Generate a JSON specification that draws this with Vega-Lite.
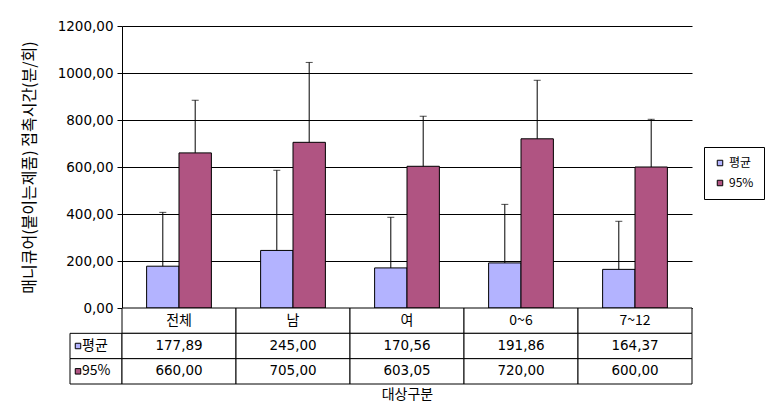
{
  "$schema": "https://vega.github.io/schema/vega-lite/v6.json",
  "background": "white",
  "padding": {"left": 21, "top": 19, "right": 5, "bottom": 5},
  "config": {
    "view": {"stroke": null},
    "font": "Noto Sans CJK KR",
    "axis": {"labelColor": "black", "titleColor": "black", "titleFontWeight": "normal"}
  },
  "datasets": {
    "bars": [
      {"cat": "전체", "series": "평균", "value": 177.89, "upper": 407},
      {"cat": "전체", "series": "95%", "value": 660.0, "upper": 884},
      {"cat": "남", "series": "평균", "value": 245.0, "upper": 586},
      {"cat": "남", "series": "95%", "value": 705.0, "upper": 1045},
      {"cat": "여", "series": "평균", "value": 170.56, "upper": 386},
      {"cat": "여", "series": "95%", "value": 603.05, "upper": 816},
      {"cat": "0~6", "series": "평균", "value": 191.86, "upper": 441},
      {"cat": "0~6", "series": "95%", "value": 720.0, "upper": 969},
      {"cat": "7~12", "series": "평균", "value": 164.37, "upper": 369},
      {"cat": "7~12", "series": "95%", "value": 600.0, "upper": 803}
    ],
    "cells": [
      {"cat": "전체", "row": "cat", "label": "전체"},
      {"cat": "남", "row": "cat", "label": "남"},
      {"cat": "여", "row": "cat", "label": "여"},
      {"cat": "0~6", "row": "cat", "label": "0~6"},
      {"cat": "7~12", "row": "cat", "label": "7~12"},
      {"cat": "전체", "row": "평균", "label": "177,89"},
      {"cat": "남", "row": "평균", "label": "245,00"},
      {"cat": "여", "row": "평균", "label": "170,56"},
      {"cat": "0~6", "row": "평균", "label": "191,86"},
      {"cat": "7~12", "row": "평균", "label": "164,37"},
      {"cat": "전체", "row": "95%", "label": "660,00"},
      {"cat": "남", "row": "95%", "label": "705,00"},
      {"cat": "여", "row": "95%", "label": "603,05"},
      {"cat": "0~6", "row": "95%", "label": "720,00"},
      {"cat": "7~12", "row": "95%", "label": "600,00"}
    ],
    "legrows": [
      {"row": "평균"},
      {"row": "95%"}
    ],
    "blank": [{"k": 1}]
  },
  "columns": 2,
  "bounds": "flush",
  "spacing": 0,
  "resolve": {
    "scale": {"x": "independent", "y": "independent", "color": "independent"},
    "legend": {"color": "independent"}
  },
  "concat": [
    {
      "width": 52,
      "height": 282,
      "data": {"name": "blank"},
      "mark": {"type": "text", "text": ""},
      "encoding": {}
    },
    {
      "width": 570,
      "height": 282,
      "data": {"name": "bars"},
      "encoding": {
        "x": {
          "field": "cat", "type": "nominal",
          "sort": ["전체", "남", "여", "0~6", "7~12"],
          "scale": {"paddingInner": 0, "paddingOuter": 0},
          "axis": {"labels": false, "ticks": false, "title": null, "domainColor": "black"}
        },
        "xOffset": {
          "field": "series", "type": "nominal",
          "sort": ["평균", "95%"],
          "scale": {"paddingInner": 0, "paddingOuter": 0.76}
        }
      },
      "layer": [
        {
          "mark": {"type": "bar", "stroke": "black", "strokeWidth": 1},
          "encoding": {
            "y": {
              "field": "value", "type": "quantitative",
              "scale": {"domain": [0, 1200], "nice": false},
              "axis": {
                "values": [0, 200, 400, 600, 800, 1000, 1200],
                "labelExpr": "replace(format(datum.value, '.2f'), '.', ',')",
                "title": "매니큐어(붙이는제품) 접촉시간(분/회)",
                "titleFontSize": 16,
                "titlePadding": 20,
                "labelFont": "DejaVu Sans",
                "labelFontSize": 13.5,
                "labelPadding": 4,
                "grid": true,
                "gridColor": "black",
                "gridOpacity": 1,
                "domainColor": "black",
                "tickColor": "black",
                "tickSize": 5
              }
            },
            "color": {
              "field": "series", "type": "nominal",
              "scale": {"domain": ["평균", "95%"], "range": ["#B3B3FF", "#B05482"]},
              "legend": {
                "orient": "none",
                "legendX": 582,
                "legendY": 121,
                "title": null,
                "strokeColor": "black",
                "padding": 10,
                "symbolType": "square",
                "symbolSize": 30,
                "symbolStrokeColor": "black",
                "symbolStrokeWidth": 1,
                "labelFontSize": 12,
                "labelColor": "black",
                "labelOffset": 3,
                "rowPadding": 8,
                "labelExpr": "datum.label + '\u00a0\u00a0\u00a0\u00a0'"
              }
            }
          }
        },
        {
          "mark": {"type": "rule", "color": "black", "strokeWidth": 1},
          "encoding": {
            "y": {"field": "value", "type": "quantitative"},
            "y2": {"field": "upper"}
          }
        },
        {
          "mark": {"type": "tick", "orient": "horizontal", "color": "black", "size": 7, "thickness": 1},
          "encoding": {
            "y": {"field": "upper", "type": "quantitative"}
          }
        }
      ]
    },
    {
      "width": 52,
      "height": 76,
      "data": {"name": "legrows"},
      "encoding": {
        "y": {
          "field": "row", "type": "nominal",
          "scale": {"domain": ["cat", "평균", "95%"], "paddingInner": 0, "paddingOuter": 0},
          "axis": null
        }
      },
      "layer": [
        {"mark": {"type": "rect", "fill": "white", "stroke": "black", "strokeWidth": 1}},
        {
          "mark": {"type": "point", "shape": "square", "filled": true, "size": 30, "stroke": "black", "strokeWidth": 1, "opacity": 1},
          "encoding": {
            "xOffset": {"value": -18},
            "color": {
              "field": "row", "type": "nominal",
              "scale": {"domain": ["평균", "95%"], "range": ["#B3B3FF", "#B05482"]},
              "legend": null
            }
          }
        },
        {
          "mark": {"type": "text", "align": "left", "dx": -14, "fontSize": 14, "color": "black"},
          "encoding": {"text": {"field": "row"}}
        }
      ]
    },
    {
      "width": 570,
      "height": 76,
      "data": {"name": "cells"},
      "encoding": {
        "x": {
          "field": "cat", "type": "nominal",
          "sort": ["전체", "남", "여", "0~6", "7~12"],
          "scale": {"paddingInner": 0, "paddingOuter": 0},
          "axis": {"labels": false, "ticks": false, "domain": false, "title": "대상구분", "titleFontSize": 14, "titlePadding": 3}
        },
        "y": {
          "field": "row", "type": "nominal",
          "scale": {"domain": ["cat", "평균", "95%"], "paddingInner": 0, "paddingOuter": 0},
          "axis": null
        }
      },
      "layer": [
        {"mark": {"type": "rect", "fill": "white", "stroke": "black", "strokeWidth": 1}},
        {
          "transform": [{"filter": "datum.row === 'cat'"}],
          "mark": {"type": "text", "fontSize": 14, "color": "black"},
          "encoding": {"text": {"field": "label"}}
        },
        {
          "transform": [{"filter": "datum.row !== 'cat'"}],
          "mark": {"type": "text", "fontSize": 13.5, "font": "DejaVu Sans", "color": "black"},
          "encoding": {"text": {"field": "label"}}
        }
      ]
    }
  ]
}
